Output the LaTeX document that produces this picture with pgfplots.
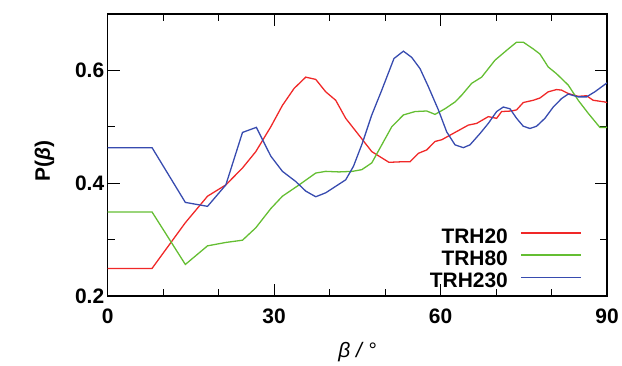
\documentclass[border=0pt]{standalone}
\usepackage{pgfplots}
\pgfplotsset{compat=1.18}
\usepackage{fontspec}
\setmainfont{Liberation Sans}
\definecolor{cred}{RGB}{240,40,40}
\definecolor{cgreen}{RGB}{100,190,50}
\definecolor{cblue}{RGB}{55,75,175}
\begin{document}
\begin{tikzpicture}
\begin{axis}[
  scale only axis, width=501bp, height=283bp,
  xmin=0, xmax=90, ymin=0.2, ymax=0.7,
  xtick={0,30,60,90}, minor xtick={10,20,40,50,70,80},
  ytick={0.2,0.4,0.6}, minor ytick={0.3,0.5},
  tick align=inside,
  major tick length=12bp, minor tick length=7bp,
  every tick/.style={black, line width=1pt},
  axis line style={black, line width=1.2pt},
  tick label style={font=\fontsize{21bp}{23bp}\selectfont\bfseries},
  xticklabel style={yshift=-9bp},
  /pgf/number format/assume math mode=true,
  yticklabel style={/pgf/number format/fixed, /pgf/number format/precision=1, /pgf/number format/fixed zerofill},
  xlabel={\fontsize{21bp}{24bp}\selectfont\itshape β / °},
  ylabel={\fontsize{21bp}{24bp}\selectfont\bfseries P(\textit{β})},
  xlabel style={at={(rel axis cs:0.5,0)}, anchor=north, yshift=-43bp},
  ylabel style={at={(rel axis cs:0,0.48)}, anchor=south, yshift=50bp},
  legend style={draw=none, fill=none, at={(rel axis cs:0.950,0.018)}, anchor=south east,
    font=\fontsize{21bp}{21bp}\selectfont\bfseries, row sep=2bp, inner sep=0pt},
  legend cell align=right,
  legend plot pos=right,
  legend image code/.code={\draw[#1] (0bp,0.36em) -- (60bp,0.36em);},
  every axis plot/.append style={line width=1.3pt},
]
\addplot[cred] coordinates {
(0,0.249)(8.0,0.249)(14,0.330)(18,0.377)(21.3,0.397)(24.3,0.427)(26.7,0.456)(29.4,0.500)(31.5,0.538)(33.6,0.568)(35.7,0.588)(37.5,0.584)(39.3,0.562)(41.1,0.547)(42.9,0.515)(45.3,0.485)(47.6,0.456)(50.7,0.437)(53.0,0.438)(54.5,0.438)(56.0,0.453)(57.5,0.459)(59.0,0.474)(60.2,0.477)(62.6,0.490)(65.0,0.503)(66.5,0.506)(68.6,0.518)(70.1,0.515)(71.0,0.527)(72.8,0.528)(73.7,0.530)(74.9,0.543)(76.7,0.547)(77.9,0.551)(79.4,0.562)(80.9,0.566)(81.8,0.565)(83.0,0.559)(84.8,0.554)(86.3,0.555)(87.5,0.547)(89.6,0.544)(90,0.543)
};
\addlegendentry{TRH20\hspace*{11bp}}
\addplot[cgreen] coordinates {
(0,0.349)(8.0,0.349)(14,0.256)(18,0.289)(21.3,0.295)(24.3,0.299)(26.7,0.321)(29.4,0.355)(31.5,0.377)(34.5,0.397)(37.5,0.418)(39.3,0.421)(41.7,0.420)(44.1,0.421)(45.8,0.424)(47.6,0.436)(49.4,0.468)(51.2,0.500)(53.3,0.521)(55.4,0.527)(57.5,0.528)(59.0,0.522)(60.8,0.532)(62.6,0.544)(63.8,0.556)(65.6,0.577)(67.4,0.588)(69.8,0.618)(72.2,0.638)(73.7,0.650)(74.9,0.650)(76.7,0.638)(77.9,0.629)(79.4,0.606)(80.9,0.594)(83.0,0.574)(84.8,0.547)(86.6,0.524)(88.7,0.499)(90,0.499)
};
\addlegendentry{TRH80\hspace*{11bp}}
\addplot[cblue] coordinates {
(0,0.463)(8.0,0.463)(14,0.366)(18,0.359)(21.3,0.397)(24.3,0.490)(26.8,0.499)(29.4,0.448)(31.5,0.421)(33.9,0.403)(35.7,0.386)(37.5,0.376)(39.3,0.383)(42.9,0.406)(44.3,0.430)(45.9,0.471)(47.6,0.521)(49.4,0.565)(51.6,0.621)(53.3,0.634)(54.8,0.623)(56.3,0.603)(57.8,0.571)(59.6,0.530)(61.1,0.491)(62.6,0.468)(64.1,0.463)(65.3,0.468)(67.1,0.488)(68.6,0.506)(70.1,0.527)(71.3,0.535)(72.5,0.532)(73.7,0.515)(74.9,0.501)(76.1,0.497)(77.3,0.501)(78.8,0.515)(80.3,0.535)(81.8,0.550)(83.0,0.558)(84.8,0.553)(86.3,0.553)(87.8,0.562)(89.6,0.575)(90,0.578)
};
\addlegendentry{TRH230\hspace*{11bp}}
\end{axis}
\path ([xshift=-108bp,yshift=-66bp]current axis.south west) rectangle ([xshift=13bp,yshift=14bp]current axis.north east);
\end{tikzpicture}
\end{document}
